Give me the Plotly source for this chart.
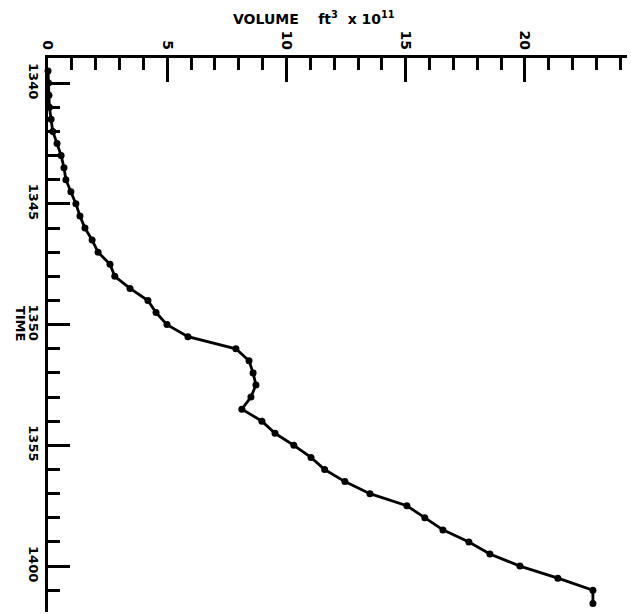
import plotly.graph_objects as go

# Time in minutes after 13:40 (observations every 30 s)
minutes = [-0.5, 0.0, 0.5, 1.0, 1.5, 2.0, 2.5, 3.0, 3.5, 4.0, 4.5, 5.0, 5.5, 6.0,
           6.5, 7.0, 7.5, 8.0, 8.5, 9.0, 9.5, 10.0, 10.5, 11.0, 11.5, 12.0, 12.5,
           13.0, 13.5, 14.0, 14.5, 15.0, 15.5, 16.0, 16.5, 17.0, 17.5, 18.0, 18.5,
           19.0, 19.5, 20.0, 20.5, 21.0, 21.55]
# Volume, ft^3 x 10^11
volume = [0.0, 0.02, 0.04, 0.06, 0.13, 0.2, 0.38, 0.55, 0.67, 0.75, 0.96, 1.17,
          1.34, 1.55, 1.85, 2.1, 2.6, 2.8, 3.44, 4.19, 4.53, 4.99, 5.87, 7.88,
          8.43, 8.6, 8.72, 8.51, 8.13, 8.97, 9.52, 10.31, 11.03, 11.6, 12.45,
          13.5, 15.05, 15.8, 16.56, 17.65, 18.53, 19.79, 21.38, 22.85, 22.85]

time_tickvals = [0, 5, 10, 15, 20]
time_ticktext = ["1340", "1345", "1350", "1355", "1400"]
vol_tickvals = [0, 5, 10, 15, 20]
vol_ticktext = ["0", "5", "10", "15", "20"]

FONT = "DejaVu Sans"

fig = go.Figure()
fig.add_trace(go.Scatter(
    x=volume, y=minutes, mode="lines+markers",
    line=dict(color="black", width=2.8),
    marker=dict(color="black", size=7),
    showlegend=False, cliponaxis=False,
))

fig.update_layout(
    width=631, height=614,
    margin=dict(l=48, r=4, t=58, b=2),
    paper_bgcolor="white", plot_bgcolor="white",
    font=dict(family=FONT, color="black"),
    xaxis=dict(
        side="top", range=[0, 24.28], showgrid=False, zeroline=False,
        showline=True, linecolor="black", linewidth=3,
        tickmode="array", tickvals=vol_tickvals, ticktext=vol_ticktext,
        ticks="inside", ticklen=24, tickwidth=2.5, tickcolor="black",
        tickangle=90, tickfont=dict(family=FONT, size=14, color="black", weight="bold"),
        minor=dict(dtick=1, tick0=0, ticks="inside", ticklen=12, tickwidth=2.5, tickcolor="black"),
    ),
    yaxis=dict(
        range=[21.9, -1.04], showgrid=False, zeroline=False,
        showline=True, linecolor="black", linewidth=3,
        tickmode="array", tickvals=time_tickvals, ticktext=time_ticktext,
        ticks="inside", ticklen=22, tickwidth=2.5, tickcolor="black",
        tickangle=90, tickfont=dict(family=FONT, size=13, color="black", weight="bold"),
        minor=dict(dtick=1, tick0=0, ticks="inside", ticklen=12, tickwidth=2.5, tickcolor="black"),
    ),
    annotations=[
        dict(text="VOLUME&nbsp;&nbsp;&nbsp; ft<sup>3</sup>&nbsp; x 10<sup>11</sup>",
             xref="paper", yref="paper", x=0.46, y=1.0, yshift=40,
             showarrow=False, font=dict(family=FONT, size=14, color="black", weight="bold"),
             yanchor="middle"),
        dict(text="TIME", xref="paper", yref="paper", x=0, xshift=-28, y=0.52,
             xanchor="center", yanchor="middle",
             textangle=90, showarrow=False,
             font=dict(family=FONT, size=13, color="black", weight="bold")),
    ],
)

fig.write_html("out.html")
